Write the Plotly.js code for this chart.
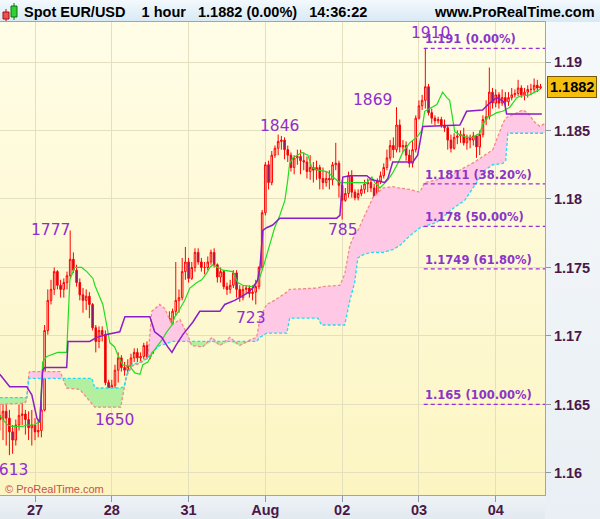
<!DOCTYPE html>
<html>
<head>
<meta charset="utf-8">
<script src="https://cdn.plot.ly/plotly-3.0.1.min.js"></script>
<style>
  html, body { margin: 0; padding: 0; background: #ffffff; }
  #wrap { position: relative; width: 600px; height: 519px; overflow: hidden; }
  .bg { position: absolute; }
  #chart { position: absolute; left: 0; top: 0; width: 600px; height: 519px; }
</style>
</head>
<body>
<div id="wrap">
  <div class="bg" style="left:0;top:0;width:600px;height:22px;background:linear-gradient(#f3f9fd,#d8e9f5);"></div>
  <div class="bg" style="left:0;top:22px;width:545px;height:473px;background:linear-gradient(#fffde7,#fcf5c2);"></div>
  <div class="bg" style="left:545px;top:22px;width:55px;height:497px;background:linear-gradient(#f6f9fb,#e9eff4);"></div>
  <div class="bg" style="left:0;top:495px;width:545px;height:24px;background:linear-gradient(#eef3f7,#e2e9ef);"></div>
  <div id="chart"></div>
</div>
<script>
// ---------- hourly candles (index 0..169) ----------
const openP = [1.1642,1.1639,1.1645,1.1640,1.1630,1.1624,1.1635,1.1642,1.1643,1.1639,
1.1633,1.1635,1.1630,1.1631,1.1646,1.1704,1.1726,1.1734,1.1747,1.1737,
1.1734,1.1739,1.1744,1.1756,1.1748,1.1739,1.1730,1.1726,1.1729,1.1723,
1.1706,1.1696,1.1704,1.1701,1.1666,1.1656,1.1664,1.1675,1.1684,1.1677,
1.1675,1.1678,1.1684,1.1688,1.1684,1.1685,1.1693,1.1685,1.1690,1.1695,
1.1697,1.1707,1.1702,1.1713,1.1707,1.1718,1.1726,1.1728,1.1747,1.1754,
1.1742,1.1750,1.1761,1.1754,1.1750,1.1750,1.1754,1.1761,1.1752,1.1743,
1.1747,1.1736,1.1734,1.1737,1.1746,1.1734,1.1728,1.1734,1.1735,1.1731,
1.1732,1.1736,1.1750,1.1790,1.1825,1.1812,1.1832,1.1837,1.1842,1.1843,
1.1836,1.1832,1.1823,1.1830,1.1831,1.1828,1.1827,1.1820,1.1823,1.1821,
1.1823,1.1815,1.1812,1.1815,1.1814,1.1825,1.1826,1.1810,1.1799,1.1804,
1.1817,1.1805,1.1801,1.1804,1.1807,1.1811,1.1812,1.1808,1.1801,1.1813,
1.1817,1.1823,1.1830,1.1839,1.1836,1.1854,1.1838,1.1839,1.1832,1.1826,
1.1836,1.1859,1.1868,1.1872,1.1882,1.1863,1.1859,1.1857,1.1858,1.1854,
1.1852,1.1843,1.1837,1.1845,1.1846,1.1847,1.1841,1.1845,1.1843,1.1846,
1.1838,1.1847,1.1858,1.1860,1.1878,1.1870,1.1876,1.1870,1.1874,1.1871,
1.1874,1.1876,1.1877,1.1881,1.1876,1.1878,1.1880,1.1880,1.1883,1.1881];
const highP = [1.1650,1.1653,1.1650,1.1646,1.1635,1.1639,1.1650,1.1652,1.1646,1.1645,
1.1646,1.1640,1.1639,1.1653,1.1708,1.1734,1.1741,1.1750,1.1748,1.1741,
1.1742,1.1747,1.1777,1.1761,1.1752,1.1742,1.1735,1.1734,1.1732,1.1724,
1.1708,1.1707,1.1707,1.1704,1.1668,1.1668,1.1679,1.1688,1.1686,1.1681,
1.1683,1.1687,1.1691,1.1691,1.1688,1.1695,1.1696,1.1693,1.1699,1.1701,
1.1710,1.1710,1.1715,1.1718,1.1720,1.1754,1.1734,1.1757,1.1765,1.1757,
1.1754,1.1764,1.1764,1.1757,1.1754,1.1758,1.1763,1.1764,1.1753,1.1750,
1.1748,1.1739,1.1741,1.1748,1.1748,1.1737,1.1737,1.1737,1.1737,1.1737,
1.1741,1.1751,1.1792,1.1827,1.1828,1.1835,1.1839,1.1847,1.1846,1.1845,
1.1839,1.1834,1.1832,1.1836,1.1836,1.1834,1.1831,1.1832,1.1827,1.1828,
1.1825,1.1823,1.1820,1.1821,1.1827,1.1841,1.1828,1.1814,1.1808,1.1820,
1.1821,1.1807,1.1807,1.1810,1.1814,1.1815,1.1814,1.1811,1.1815,1.1820,
1.1826,1.1836,1.1843,1.1845,1.1867,1.1858,1.1843,1.1842,1.1836,1.1843,
1.1861,1.1872,1.1876,1.1910,1.1884,1.1866,1.1861,1.1860,1.1860,1.1858,
1.1854,1.1847,1.1848,1.1850,1.1850,1.1852,1.1847,1.1847,1.1849,1.1847,
1.1850,1.1861,1.1872,1.1896,1.1881,1.1880,1.1878,1.1880,1.1878,1.1878,
1.1881,1.1880,1.1887,1.1883,1.1881,1.1883,1.1884,1.1888,1.1887,1.1884];
const lowP = [1.1631,1.1624,1.1620,1.1613,1.1614,1.1620,1.1631,1.1635,1.1628,1.1624,
1.1620,1.1624,1.1626,1.1626,1.1645,1.1701,1.1723,1.1730,1.1734,1.1728,
1.1728,1.1734,1.1742,1.1746,1.1736,1.1726,1.1717,1.1719,1.1713,1.1704,
1.1688,1.1691,1.1696,1.1664,1.1650,1.1653,1.1662,1.1666,1.1674,1.1671,
1.1673,1.1677,1.1681,1.1681,1.1681,1.1683,1.1683,1.1683,1.1687,1.1691,
1.1694,1.1697,1.1700,1.1704,1.1704,1.1715,1.1717,1.1726,1.1741,1.1739,
1.1741,1.1747,1.1752,1.1747,1.1745,1.1748,1.1752,1.1750,1.1739,1.1739,
1.1734,1.1730,1.1731,1.1735,1.1728,1.1725,1.1726,1.1731,1.1728,1.1726,
1.1723,1.1734,1.1748,1.1788,1.1807,1.1810,1.1830,1.1832,1.1836,1.1829,
1.1827,1.1820,1.1818,1.1825,1.1818,1.1821,1.1815,1.1814,1.1812,1.1814,
1.1807,1.1807,1.1809,1.1807,1.1810,1.1821,1.1801,1.1785,1.1798,1.1801,
1.1801,1.1799,1.1799,1.1802,1.1804,1.1805,1.1805,1.1794,1.1800,1.1811,
1.1815,1.1821,1.1828,1.1830,1.1834,1.1834,1.1834,1.1828,1.1823,1.1823,
1.1834,1.1858,1.1865,1.1866,1.1861,1.1855,1.1854,1.1855,1.1852,1.1849,
1.1836,1.1834,1.1836,1.1840,1.1841,1.1839,1.1836,1.1837,1.1839,1.1830,
1.1832,1.1845,1.1854,1.1858,1.1866,1.1867,1.1866,1.1868,1.1866,1.1868,
1.1872,1.1874,1.1875,1.1874,1.1872,1.1874,1.1876,1.1878,1.1878,1.1880];
const closeP = [1.1639,1.1645,1.1640,1.1630,1.1624,1.1635,1.1642,1.1643,1.1639,1.1633,
1.1635,1.1630,1.1631,1.1646,1.1704,1.1726,1.1734,1.1747,1.1737,1.1734,
1.1739,1.1744,1.1756,1.1748,1.1739,1.1730,1.1726,1.1729,1.1723,1.1706,
1.1696,1.1704,1.1701,1.1666,1.1656,1.1664,1.1675,1.1684,1.1677,1.1675,
1.1678,1.1684,1.1688,1.1684,1.1685,1.1693,1.1685,1.1690,1.1695,1.1697,
1.1707,1.1702,1.1713,1.1707,1.1718,1.1726,1.1728,1.1747,1.1754,1.1742,
1.1750,1.1761,1.1754,1.1750,1.1750,1.1754,1.1761,1.1752,1.1743,1.1747,
1.1736,1.1734,1.1737,1.1746,1.1734,1.1728,1.1734,1.1735,1.1731,1.1732,
1.1736,1.1750,1.1790,1.1825,1.1812,1.1832,1.1837,1.1842,1.1843,1.1836,
1.1832,1.1823,1.1830,1.1831,1.1828,1.1827,1.1820,1.1823,1.1821,1.1823,
1.1815,1.1812,1.1815,1.1814,1.1825,1.1826,1.1810,1.1799,1.1804,1.1817,
1.1805,1.1801,1.1804,1.1807,1.1811,1.1812,1.1808,1.1801,1.1813,1.1817,
1.1823,1.1830,1.1839,1.1836,1.1854,1.1838,1.1839,1.1832,1.1826,1.1836,
1.1859,1.1868,1.1872,1.1882,1.1863,1.1859,1.1857,1.1858,1.1854,1.1852,
1.1843,1.1837,1.1845,1.1846,1.1847,1.1841,1.1845,1.1843,1.1846,1.1838,
1.1847,1.1858,1.1860,1.1878,1.1870,1.1876,1.1870,1.1874,1.1871,1.1874,
1.1876,1.1877,1.1881,1.1876,1.1878,1.1880,1.1880,1.1883,1.1881,1.1882];

// ---------- day ticks ----------
const dayTickIdx = [11, 35, 59, 83, 107, 131, 155];
const dayTickText = ['27', '28', '31', 'Aug', '02', '03', '04'];
const priceTicks = [1.16, 1.165, 1.17, 1.175, 1.18, 1.185, 1.19];

// ---------- Ichimoku lines ----------
const tenkanX = [0,0.9,2.5,3.8,7.2,8.4,10.9,11.9,12.5,13.4,14.7,18.1,20.9,21.9,23.4,25.6,27.2,29.1,29.7,31.3,
32.2,33.4,34.4,35.9,36.9,38.4,40.6,42.2,43.8,44.7,46.3,47.8,49.4,50.6,52.2,53.8,54.7,55.6,57.8,59.4,
61.6,63.1,64.7,65.6,66.6,68.1,69.7,72.8,74.4,75.9,78.8,80.3,81.3,82.8,84.4,85.9,87.5,89.1,90.0,90.6,
91.6,94.4,96.3,97.5,99.4,102.2,104.7,106.3,114.7,116.3,117.2,118.8,121.3,122.8,124.4,125.9,128.1,130.3,131.9,132.8,
136.6,138.4,139.7,140.6,142.2,143.8,145.9,147.8,150.0,150.9,152.5,153.8,155.3,157.2,159.4,161.6,162.5,165.6,167.2,168.8];
const tenkanY = [1.1642,1.1639,1.1635,1.1634,1.1634,1.1635,1.1635,1.1637,1.1637,1.1681,1.1685,1.1688,1.1688,1.1741,1.1750,1.1750,1.1747,1.1742,1.1737,1.1728,
1.1723,1.1708,1.1695,1.1692,1.1686,1.1679,1.1678,1.1673,1.1672,1.1679,1.1681,1.1688,1.1693,1.1697,1.1703,1.1708,1.1714,1.1717,1.1726,1.1735,
1.1739,1.1741,1.1746,1.1750,1.1752,1.1750,1.1748,1.1747,1.1739,1.1737,1.1736,1.1739,1.1743,1.1754,1.1766,1.1779,1.1788,1.1799,1.1814,1.1826,
1.1830,1.1834,1.1832,1.1823,1.1821,1.1820,1.1815,1.1812,1.1812,1.1816,1.1812,1.1808,1.1814,1.1819,1.1826,1.1834,1.1841,1.1845,1.1850,1.1864,
1.1869,1.1878,1.1874,1.1872,1.1849,1.1847,1.1845,1.1845,1.1848,1.1854,1.1860,1.1861,1.1863,1.1864,1.1867,1.1874,1.1875,1.1876,1.1878,1.1880];

const kijunX = [0,3.1,8.4,10.0,11.6,12.5,13.4,14.1,20.9,21.3,28.1,30.3,33.4,35.0,37.5,39.1,46.9,48.4,50.6,52.5,
53.8,55.0,57.2,60.3,62.5,68.8,70.3,73.4,77.2,79.1,80.6,81.3,82.2,83.4,85.3,87.5,105.3,106.3,107.2,109.4,
114.7,116.3,120.3,121.3,122.8,129.1,130.6,132.2,143.8,145.9,150.9,153.1,155.3,156.9,157.8,158.4,169.4];
const kijunY = [1.1672,1.1663,1.1663,1.1657,1.1640,1.1637,1.1675,1.1677,1.1677,1.1696,1.1696,1.1699,1.1701,1.1702,1.1703,1.1714,1.1714,1.1703,1.1699,1.1692,
1.1688,1.1693,1.1701,1.1710,1.1718,1.1718,1.1723,1.1726,1.1731,1.1735,1.1741,1.1750,1.1777,1.1779,1.1781,1.1786,1.1786,1.1788,1.1816,1.1817,
1.1817,1.1814,1.1812,1.1815,1.1827,1.1827,1.1832,1.1853,1.1854,1.1864,1.1865,1.1870,1.1874,1.1872,1.1870,1.1862,1.1862];

// cloud: span lines (pink-dashed = spanR, cyan-dashed = spanC)
const cloudX = [0,7.8,8.4,9.1,9.4,18.8,19.7,20.9,25,27.2,28.8,29.7,34.4,37.8,38.8,39.7,41.3,43.8,46.3,47.5,
50,51.6,53.8,56.3,58.8,60,63.4,66.3,68.8,71.9,75,78.1,80.3,81.3,83.4,85.9,89.7,90.6,99.4,100.6,
106.3,107.8,109.4,110.9,111.9,114.1,116.6,119.7,122.8,125,128.1,131.3,132.8,136.6,140.6,142.2,145.3,148.4,151.6,154.1,
157.2,158.1,158.8,160.9,163.4,165,167.2,168.8,170.3];
const spanR = [1.1650,1.1651,1.1653,1.1673,1.1674,1.1674,1.1669,1.1662,1.1661,1.1655,1.1650,1.1648,1.1648,1.1648,1.1661,1.1671,1.1678,1.1680,1.1684,1.1718,
1.1723,1.1720,1.1708,1.1712,1.1700,1.1693,1.1692,1.1699,1.1693,1.1699,1.1693,1.1697,1.1699,1.1713,1.1723,1.1726,1.1732,1.1734,1.1735,1.1736,
1.1737,1.1745,1.1766,1.1774,1.1777,1.1788,1.1801,1.1808,1.1809,1.1808,1.1807,1.1805,1.1812,1.1814,1.1816,1.1819,1.1823,1.1827,1.1832,1.1836,
1.1855,1.1859,1.1860,1.1862,1.1865,1.1863,1.1856,1.1853,1.1855];
const spanC = [1.1655,1.1655,1.1655,1.1669,1.1669,1.1669,1.1669,1.1669,1.1669,1.1669,1.1669,1.1662,1.1662,1.1662,1.1663,1.1672,1.1679,1.1681,1.1684,1.1688,
1.1693,1.1694,1.1696,1.1696,1.1696,1.1696,1.1696,1.1696,1.1696,1.1696,1.1696,1.1696,1.1696,1.1699,1.1702,1.1702,1.1702,1.1713,1.1713,1.1708,
1.1708,1.1708,1.1726,1.1739,1.1757,1.1760,1.1761,1.1761,1.1763,1.1766,1.1773,1.1779,1.1780,1.1783,1.1791,1.1794,1.1799,1.1810,1.1821,1.1825,
1.1826,1.1828,1.1848,1.1848,1.1848,1.1848,1.1848,1.1848,1.1848];

// ---------- Fibonacci retracement ----------
const fibLevels = [1.191, 1.1811, 1.178, 1.1749, 1.165];
const fibPct = ['0.00%', '38.20%', '50.00%', '61.80%', '100.00%'];
const fibStartIdx = 132.5;

// ---------- swing labels ----------
const pivotText = ['1910', '1869', '1846', '1777', '1650', '785', '723', '1613'];
const pivotIdx = [134.7, 116.6, 87.5, 15.9, 35.9, 107.2, 78.4, 2.8];
const pivotPrice = [1.1921, 1.1872, 1.1853, 1.1777, 1.1639, 1.1777, 1.1713, 1.1602];

// ================= build =================
const idx = closeP.map((_, i) => i);
const xMax = 170.4;
const cloudLow = spanR.map((r, i) => Math.min(r, spanC[i]));

const noHover = { hoverinfo: 'skip', showlegend: false };
const traces = [
  Object.assign({ type: 'scatter', mode: 'lines', x: cloudX, y: cloudLow, line: { width: 0 } }, noHover),
  Object.assign({ type: 'scatter', mode: 'lines', x: cloudX, y: spanR, line: { width: 0 }, fill: 'tonexty', fillcolor: '#ffc9e6' }, noHover),
  Object.assign({ type: 'scatter', mode: 'lines', x: cloudX, y: cloudLow, line: { width: 0 } }, noHover),
  Object.assign({ type: 'scatter', mode: 'lines', x: cloudX, y: spanC, line: { width: 0 }, fill: 'tonexty', fillcolor: '#b2f0a0' }, noHover),
  Object.assign({ type: 'scatter', mode: 'lines', x: cloudX, y: spanR, line: { color: '#f28a8a', width: 1.3, dash: '3px,2px' } }, noHover),
  Object.assign({ type: 'scatter', mode: 'lines', x: cloudX, y: spanC, line: { color: '#22dcf2', width: 1.3, dash: '3px,2px' } }, noHover),
  {
    type: 'candlestick', x: idx, open: openP, high: highP, low: lowP, close: closeP,
    increasing: { line: { color: '#ff0000', width: 1 }, fillcolor: 'rgba(255,255,255,0)' },
    decreasing: { line: { color: '#ff0000', width: 1 }, fillcolor: '#4d2c9c' },
    whiskerwidth: 0, hoverinfo: 'skip', showlegend: false
  },
  Object.assign({ type: 'scatter', mode: 'lines', x: tenkanX, y: tenkanY, line: { color: '#22dd22', width: 1.2 } }, noHover),
  Object.assign({ type: 'scatter', mode: 'lines', x: kijunX, y: kijunY, line: { color: '#8b1ec8', width: 1.5 } }, noHover)
];

const fibX = [], fibY = [];
fibLevels.forEach(l => { fibX.push(fibStartIdx, xMax, null); fibY.push(l, l, null); });
traces.push(Object.assign({ type: 'scatter', mode: 'lines', x: fibX, y: fibY, line: { color: '#9a2fd6', width: 1.2, dash: '4px,3px' } }, noHover));

const annotations = [];
fibLevels.forEach((l, i) => annotations.push({
  x: fibStartIdx, y: l, xref: 'x', yref: 'y', xanchor: 'left', yanchor: 'bottom',
  text: String(l) + ' (' + fibPct[i] + ')', showarrow: false, borderpad: 0, yshift: 1,
  font: { family: 'DejaVu Sans', size: 11.5, weight: 'bold', color: '#8a35c8' }
}));
pivotText.forEach((t, i) => annotations.push({
  x: pivotIdx[i], y: pivotPrice[i], xref: 'x', yref: 'y', xanchor: 'center', yanchor: 'middle',
  text: t, showarrow: false, font: { family: 'DejaVu Sans', size: 15.5, color: '#8f2fcf' }
}));
// current price box
annotations.push({
  x: 1, y: closeP[closeP.length - 1], xref: 'paper', yref: 'y', xanchor: 'left', yanchor: 'middle', xshift: 2,
  text: closeP[closeP.length - 1].toFixed(4), showarrow: false,
  bgcolor: '#f5bf10', bordercolor: '#7a5a00', borderwidth: 1, borderpad: 2,
  font: { family: 'Liberation Sans', size: 14.5, weight: 'bold', color: '#000000' }
});
// header right
annotations.push({
  x: 597 / 545, y: (495 - 12) / 473, xref: 'paper', yref: 'paper', xanchor: 'right', yanchor: 'middle',
  text: 'www.ProRealTime.com', showarrow: false,
  font: { family: 'Liberation Sans', size: 14.5, weight: 'bold', color: '#000000' }
});
// copyright
annotations.push({
  x: 3 / 545, y: (495 - 489) / 473, xref: 'paper', yref: 'paper', xanchor: 'left', yanchor: 'middle',
  text: '\u00a9 ProRealTime.com', showarrow: false,
  font: { family: 'Liberation Sans', size: 11, color: '#c8504a' }
});

const px = X => X / 545, py = Y => (495 - Y) / 473;
const shapes = [
  { type: 'line', xref: 'paper', yref: 'paper', x0: px(6), x1: px(6), y0: py(9), y1: py(21), line: { color: '#b01010', width: 1 } },
  { type: 'rect', xref: 'paper', yref: 'paper', x0: px(3), x1: px(9), y0: py(12), y1: py(19), fillcolor: '#f05050', line: { color: '#a01010', width: 1 } },
  { type: 'line', xref: 'paper', yref: 'paper', x0: px(14), x1: px(14), y0: py(3), y1: py(20), line: { color: '#107010', width: 1 } },
  { type: 'rect', xref: 'paper', yref: 'paper', x0: px(11), x1: px(17), y0: py(6), y1: py(17), fillcolor: '#30d030', line: { color: '#107010', width: 1 } }
];

const tickFont = { family: 'Liberation Sans', size: 14.5, weight: 'bold', color: '#4b1747' };
const layout = {
  width: 600, height: 519,
  margin: { l: 0, r: 55, t: 22, b: 24, pad: 0 },
  paper_bgcolor: 'rgba(0,0,0,0)', plot_bgcolor: 'rgba(0,0,0,0)',
  showlegend: false,
  title: {
    text: 'Spot EUR/USD\u00a0\u00a0\u00a0\u00a01 hour\u00a0\u00a0\u00a0' + closeP[closeP.length - 1].toFixed(4) + ' (0.00%)\u00a0\u00a0\u00a014:36:22',
    x: 24 / 600, xref: 'container', xanchor: 'left',
    y: 1 - 12 / 519, yref: 'container', yanchor: 'middle',
    font: { family: 'Liberation Sans', size: 14.5, weight: 'bold', color: '#000000' }
  },
  xaxis: {
    range: [0.06, xMax], tickvals: dayTickIdx, ticktext: dayTickText,
    showgrid: true, gridcolor: '#e4dfbf', gridwidth: 1, zeroline: false,
    ticks: 'outside', ticklen: 6, tickcolor: '#8e99a4', ticklabelstandoff: -4,
    showline: true, linecolor: '#9aa6b0', linewidth: 1, mirror: true,
    tickfont: tickFont, rangeslider: { visible: false }, fixedrange: true
  },
  yaxis: {
    side: 'right', range: [1.15839, 1.19292], tickvals: priceTicks,
    ticktext: priceTicks.map(v => String(v)),
    showgrid: true, gridcolor: '#e4dfbf', gridwidth: 1, zeroline: false,
    ticks: 'outside', ticklen: 5, tickcolor: '#8e99a4',
    showline: true, linecolor: '#9aa6b0', linewidth: 1, mirror: true,
    tickfont: tickFont, fixedrange: true
  },
  annotations: annotations,
  shapes: shapes
};

Plotly.newPlot('chart', traces, layout, { displayModeBar: false, staticPlot: true });
</script>
</body>
</html>
